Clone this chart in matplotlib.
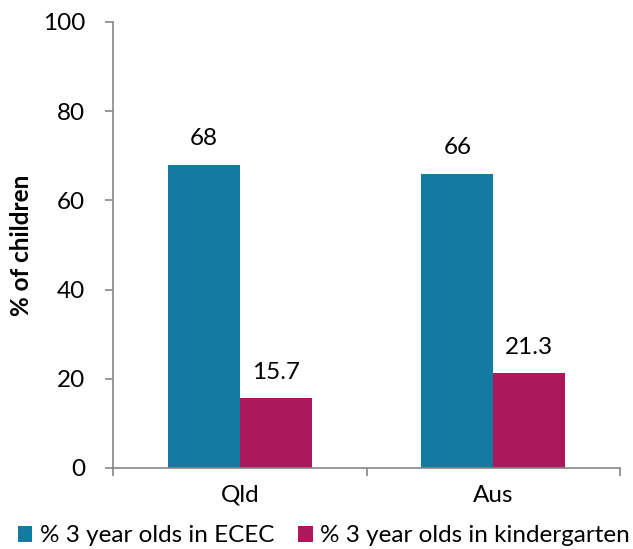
import matplotlib
matplotlib.use("Agg")
import matplotlib.pyplot as plt
import numpy as np
from matplotlib.patches import Patch

categories = ["Qld", "Aus"]
series_names = ["% 3 year olds in ECEC", "% 3 year olds in kindergarten"]
ecec = [68, 66]
kindergarten = [15.7, 21.3]
ecec_labels = ["68", "66"]
kg_labels = ["15.7", "21.3"]
yticks = [0, 20, 40, 60, 80, 100]

colors = ["#147AA0", "#AC185B"]
plt.rcParams['font.family'] = ['Lato', 'DejaVu Sans']

fig = plt.figure(figsize=(6.33, 5.49), dpi=100)
ax = fig.add_axes([113/633, 1-468/549, (620-113)/633, (468-22)/549])

x = np.arange(len(categories))
w = 0.284
b1 = ax.bar(x - w/2, ecec, w, color=colors[0])
b2 = ax.bar(x + w/2, kindergarten, w, color=colors[1])

fs = 17.5
for rect, lab in zip(b1, ecec_labels):
    ax.annotate(lab, (rect.get_x() + rect.get_width()/2, rect.get_height()),
                xytext=(0, 11), textcoords="offset points", ha="center", va="bottom", fontsize=fs)
for rect, lab in zip(b2, kg_labels):
    ax.annotate(lab, (rect.get_x() + rect.get_width()/2, rect.get_height()),
                xytext=(0, 11), textcoords="offset points", ha="center", va="bottom", fontsize=fs)

ax.set_ylim(0, 100)
ax.set_xlim(-0.5, len(categories) - 0.5)
ax.set_yticks(yticks)
ax.set_yticklabels([str(t) for t in yticks], fontsize=fs)
ax.set_xticks(np.arange(-0.5, len(categories), 1.0))
ax.set_xticklabels([])
ax.set_xticks(x, minor=True)
ax.set_xticklabels(categories, minor=True, fontsize=fs)
ax.tick_params(axis="x", which="minor", length=0, pad=12)
ax.tick_params(axis="x", which="major", length=6, color="#868686", width=1.2)
ax.tick_params(axis="y", length=6, color="#868686", width=1.2, pad=14)

for s in ["top", "right"]:
    ax.spines[s].set_visible(False)
for s in ["left", "bottom"]:
    ax.spines[s].set_color("#868686")
    ax.spines[s].set_linewidth(1.2)

ax.set_ylabel("% of children", fontsize=17.5, fontweight="bold", labelpad=7)

handles = [Patch(facecolor=colors[0]), Patch(facecolor=colors[1])]
fig.legend(handles, series_names, loc="center", bbox_to_anchor=(324/633, 1-536/549), ncol=2,
           frameon=False, fontsize=fs, handlelength=0.6, handleheight=0.6,
           handletextpad=0.3, columnspacing=1.0, borderpad=0)

fig.savefig("out.png", dpi=100)
